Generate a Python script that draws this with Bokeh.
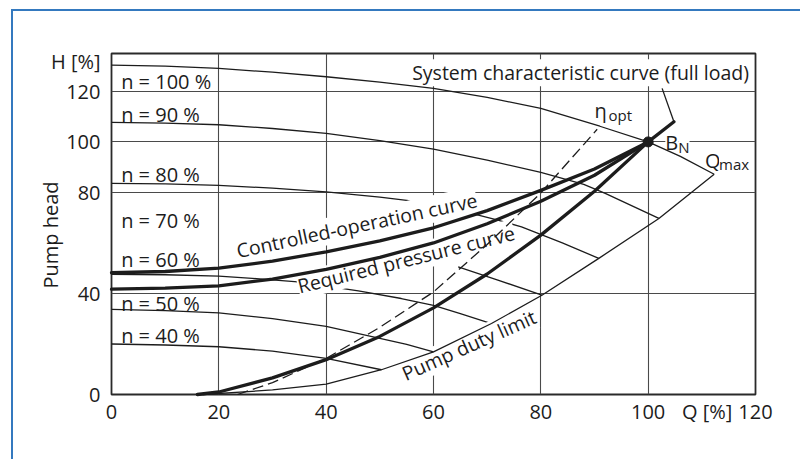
import math
from bokeh.plotting import figure
from bokeh.models import Range1d, FixedTicker, Label, Title, InlineStyleSheet
from bokeh.embed import file_html
from bokeh.resources import INLINE

FONT = "Open Sans"
INK = "#1c1c1c"
BLUE = "#3479bf"

# ---------------- data ----------------
q_ticks = [0, 20, 40, 60, 80, 100, 120]
h_ticks = [0, 40, 80, 100, 120]
q_grid = [20, 40, 60, 80, 100]
h_grid = [40, 80, 100, 120]
q_unit_text = "Q [%]"
h_unit_text = "H [%]"
q_unit_at = 111
h_unit_at = 132

speed_labels = ["n = 100 %", "n = 90 %", "n = 80 %", "n = 70 %", "n = 60 %", "n = 50 %", "n = 40 %"]

# pump characteristic curves at different speeds
n100_q = [0, 10, 20, 30, 40, 50, 60, 70, 80, 91, 100, 106, 112.3]
n100_h = [130.4, 130.0, 129.1, 127.6, 125.8, 123.7, 121.2, 117.6, 113.3, 106.2, 100, 94.3, 87.2]
n90_q = [0, 10, 20, 30, 40, 50, 60, 70, 80, 88, 92, 102]
n90_h = [107.7, 107.4, 106.8, 105.3, 103.4, 100.5, 97.1, 92.8, 87.9, 83.2, 79.6, 69.7]
n80_q = [0, 10, 20, 30, 40, 50, 60, 66, 72, 76.4, 84, 90.8]
n80_h = [83.6, 83.4, 82.8, 81.7, 80.2, 78.1, 75.6, 72.3, 69.0, 66.4, 60.0, 53.9]
n70_q = [64.6, 72, 80.2]
n70_h = [50.5, 45.3, 39.3]
n60_q = [0, 10, 20, 27, 34.7, 46, 54, 60, 65, 70.8]
n60_h = [47.6, 47.4, 46.9, 45.9, 44.6, 41.0, 38.0, 35.3, 32.0, 28.1]
n50_q = [0, 10, 20, 30, 40, 50, 55, 60]
n50_h = [33.7, 33.2, 32.3, 30.0, 27.0, 22.2, 19.8, 16.9]
n40_q = [0, 10, 20, 30, 40, 50.3]
n40_h = [20.0, 19.6, 18.9, 17.2, 14.3, 9.8]

# pump duty limit
duty_q = [17, 30, 40, 50.3, 60, 70.8, 80.2, 90.8, 102, 112.3]
duty_h = [0, 1.8, 4.1, 9.8, 16.9, 28.1, 39.3, 53.9, 69.7, 87.2]

# controlled-operation curve
ctrl_q = [0, 10, 20, 30, 40, 50, 60, 70, 80, 90, 100]
ctrl_h = [48.2, 48.7, 50.0, 52.8, 56.5, 60.8, 66.0, 72.8, 80.8, 89.3, 100]

# required pressure curve
req_q = [0, 10, 20, 30, 40, 50, 60, 70, 80, 90, 100]
req_h = [41.7, 42.1, 43.0, 45.7, 49.5, 54.3, 60.0, 67.6, 76.5, 86.8, 100]

# system characteristic curve (full load)
sys_q = [16, 20, 30, 40, 50, 60, 70, 80, 90, 100, 104.8]
sys_h = [0, 1.0, 6.6, 13.8, 23.0, 34.3, 47.7, 63.1, 80.5, 100, 108.0]

# eta_opt line (dashed)
eta_q = [23.5, 30, 40, 50, 60, 70, 80, 90.5]
eta_h = [0, 4.7, 14.3, 26.6, 40.6, 59.4, 79.8, 105.0]

# leader from system-curve label, design point
leader_q = [102.6, 104.8]
leader_h = [121.2, 108.0]
bn_q = [100]
bn_h = [100]

# ---------------- figure ----------------
p = figure(width=800, height=459, x_range=Range1d(0, 120), y_range=Range1d(0, 135),
           output_backend="svg", toolbar_location=None,
           min_border_left=111, min_border_right=45, min_border_top=53, min_border_bottom=65)
p.background_fill_color = "white"
p.border_fill_color = "white"
p.outline_line_color = "#2a2a2a"
p.outline_line_width = 1.8

for ax in (p.xaxis[0], p.yaxis[0]):
    ax.axis_line_color = None
    ax.major_tick_line_color = None
    ax.minor_tick_line_color = None
    ax.major_tick_out = 0
    ax.major_tick_in = 0
    ax.major_label_text_font = FONT
    ax.major_label_text_font_size = "20px"
    ax.major_label_text_color = INK

p.xaxis.ticker = FixedTicker(ticks=q_ticks + [q_unit_at])
p.xaxis.major_label_overrides = {q_unit_at: q_unit_text}
p.xaxis.major_label_standoff = 3
p.yaxis.ticker = FixedTicker(ticks=h_ticks + [h_unit_at])
p.yaxis.major_label_overrides = {h_unit_at: h_unit_text}
p.yaxis.major_label_standoff = 11

p.xgrid.ticker = FixedTicker(ticks=q_grid)
p.ygrid.ticker = FixedTicker(ticks=h_grid)
for g in (p.xgrid[0], p.ygrid[0]):
    g.grid_line_color = "#4a4a4a"
    g.grid_line_width = 1.1

THIN = 1.3
THICK = 3.3

# curves that are hidden under label boxes stay at glyph level
p.line(n80_q, n80_h, line_width=THIN, color=INK)
p.line(n60_q, n60_h, line_width=THIN, color=INK)
# other curves drawn above labels
for qs, hs in [(n100_q, n100_h), (n90_q, n90_h), (n70_q, n70_h), (n50_q, n50_h), (n40_q, n40_h),
               (duty_q, duty_h), (leader_q, leader_h)]:
    p.line(qs, hs, line_width=THIN, color=INK, level="overlay")
p.line(eta_q, eta_h, line_width=THIN, color=INK, line_dash="11 5", level="overlay")
for qs, hs in [(ctrl_q, ctrl_h), (req_q, req_h), (sys_q, sys_h)]:
    p.line(qs, hs, line_width=THICK, color=INK, line_join="round", line_cap="round", level="overlay")
p.scatter(bn_q, bn_h, size=10, color=INK, level="overlay")


def lab(x, y, text, size="20px", angle=0.0, align="left", bg=None):
    kw = dict(x=x, y=y, text=text, text_font=FONT, text_font_size=size, text_color=INK,
              angle=angle, text_align=align, text_baseline="middle")
    if bg:
        kw.update(background_fill_color=bg, background_fill_alpha=1.0)
    p.add_layout(Label(**kw))


speed_label_h = [124.0, 110.9, 87.2, 69.0, 53.4, 36.2, 23.5]
for t, y in zip(speed_labels, speed_label_h):
    lab(1.8, y, t)

lab(87.4, 127.4, "System characteristic curve (full load)", size="19.5px", align="center", bg="white")
lab(45.7, 67.0, "Controlled-operation curve", size="19.5px", angle=math.radians(12), align="center", bg="white")
lab(54.9, 53.5, "Required pressure curve", size="19.5px", angle=math.radians(14), align="center", bg="white")
lab(66.6, 19.6, "Pump duty limit", size="19.5px", angle=math.radians(24), align="center", bg="white")
lab(90.0, 112.4, "\u03b7", size="20px")
lab(92.6, 110.5, "opt", size="15px")
lab(103.2, 99.7, "B", bg="white")
lab(105.6, 97.9, "N", size="15px", bg="white")
lab(110.6, 92.6, "Q", bg="white")
lab(113.2, 91.1, "max", size="15px", bg="white")

p.add_layout(Title(text="Pump head", align="left", offset=106, standoff=-33,
                   text_font=FONT, text_font_size="20px", text_font_style="normal",
                   text_color=INK), "left")

# blue frame of the figure box (left and top edges)
p.stylesheets = [InlineStyleSheet(css=(
    ":host::after { content: ''; position: absolute; left: 11px; top: 8.5px; right: 0; bottom: 0;"
    " border-left: 2px solid %s; border-top: 2px solid %s; pointer-events: none; z-index: 5; }"
    % (BLUE, BLUE)))]

open("out.html", "w").write(file_html(p, INLINE))
